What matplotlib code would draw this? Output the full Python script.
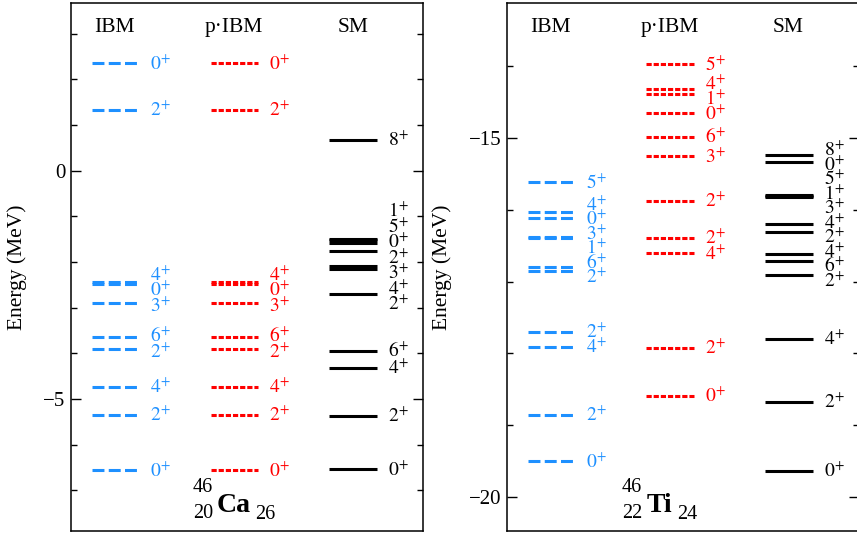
import numpy as np
import matplotlib
matplotlib.use('Agg')
import matplotlib.pyplot as plt
import matplotlib.transforms as mtransforms

plt.rcParams['font.family'] = 'Liberation Serif'
plt.rcParams['mathtext.fontset'] = 'stix'
plt.rcParams['lines.scale_dashes'] = False

# 46Ca levels (MeV)
ca_ibm_E = [2.35, 1.33, -2.44, -2.48, -2.89, -3.65, -3.91, -4.73, -5.35, -6.56]
ca_ibm_J = ['0', '2', '4', '0', '3', '6', '2', '4', '2', '0']
ca_pibm_E = [2.35, 1.33, -2.44, -2.48, -2.89, -3.65, -3.91, -4.73, -5.35, -6.56]
ca_pibm_J = ['0', '2', '4', '0', '3', '6', '2', '4', '2', '0']
ca_sm_E = [0.67, -1.50, -1.51, -1.58, -1.76, -2.09, -2.15, -2.70, -3.94, -4.32, -5.37, -6.54]
ca_sm_J = ['8', '1', '5', '0', '2', '3', '4', '2', '6', '4', '2', '0']

# 46Ti levels (MeV)
ti_ibm_E = [-15.62, -16.04, -16.11, -16.38, -16.40, -16.80, -16.85, -17.70, -17.91, -18.85, -19.50]
ti_ibm_J = ['5', '4', '0', '3', '1', '6', '2', '2', '4', '2', '0']
ti_pibm_E = [-13.98, -14.32, -14.39, -14.66, -14.99, -15.26, -15.88, -16.39, -16.61, -17.92, -18.59]
ti_pibm_J = ['5', '4', '1', '0', '6', '3', '2', '2', '4', '2', '0']
ti_sm_E = [-15.24, -15.34, -15.79, -15.81, -15.83, -16.20, -16.31, -16.62, -16.71, -16.91, -17.80, -18.67, -19.63]
ti_sm_J = ['8', '0', '5', '1', '3', '4', '2', '4', '6', '2', '4', '2', '0']

headers = ['IBM', 'p\u00b7IBM', 'SM']
blue = '#1E90FF'
red = '#FF0000'


def spread(vals, gap):
    pos = np.array(vals, float)
    order = np.argsort(-pos, kind='stable')
    p = pos[order].copy()
    for _ in range(1000):
        moved = False
        for i in range(len(p) - 1):
            d = p[i] - p[i + 1]
            if d < gap - 1e-9:
                s = (gap - d) / 2
                p[i] += s
                p[i + 1] -= s
                moved = True
        if not moved:
            break
    out = np.empty_like(p)
    out[order] = p
    return out


def panel(ax, cols, ylim, gap_px, nucl):
    ax.set_xlim(-0.371, 2.595)
    ax.set_ylim(*ylim)
    fig = ax.figure
    h_px = ax.get_position().height * fig.get_figheight() * fig.dpi
    px_per = h_px / (ylim[1] - ylim[0])
    lab_tr = mtransforms.offset_copy(ax.transData, fig=fig, x=0, y=-4.6, units='points')
    styles = [dict(color=blue, linestyle=(0, (8.6, 3.1))),
              dict(color=red, linestyle=(0, (3.75, 1.4))),
              dict(color='black', linestyle='-')]
    for i, (E, J) in enumerate(cols):
        st = styles[i]
        for e in E:
            ax.plot([i - 0.195, i + 0.205], [e, e], lw=2.2, solid_capstyle='butt', **st)
        ly = spread(E, gap_px / px_per)
        for y, j in zip(ly, J):
            ax.text(i + 0.3, y, r'$%s^{+}$' % j, color=st['color'], fontsize=14,
                    ha='left', va='baseline', transform=lab_tr)
        ax.text(i, 0.9545, headers[i], fontsize=15.5, ha='center', va='center',
                transform=ax.get_xaxis_transform())
    sym, A, Z, N, xs = nucl
    ax.text(xs[0], 0.082, A, fontsize=14.5, ha='right', va='center', transform=ax.transAxes)
    ax.text(xs[0], 0.032, Z, fontsize=14.5, ha='right', va='center', transform=ax.transAxes)
    ax.text(xs[1], 0.035, sym, fontsize=20, fontweight='bold', ha='left', va='baseline',
            transform=ax.transAxes)
    ax.text(xs[2], 0.031, N, fontsize=14.5, ha='left', va='center', transform=ax.transAxes)

    ax.set_xticks([])
    ax.tick_params(axis='y', which='both', direction='in', left=True, right=True,
                   labelsize=15, pad=4, width=1)
    ax.tick_params(axis='y', which='major', length=7)
    ax.tick_params(axis='y', which='minor', length=4)
    for s in ax.spines.values():
        s.set_linewidth(1.1)
    ax.set_ylabel('Energy (MeV)', fontsize=15.5)


fig = plt.figure(figsize=(8.57, 5.33), dpi=100)
ax1 = fig.add_axes([70.7 / 857, 1 - 530.7 / 533, 352.6 / 857, 527.7 / 533])
ax2 = fig.add_axes([506.7 / 857, 1 - 530.7 / 533, 352.3 / 857, 527.7 / 533])

panel(ax1, [(ca_ibm_E, ca_ibm_J), (ca_pibm_E, ca_pibm_J), (ca_sm_E, ca_sm_J)],
      (-7.88, 3.67), 15.5, ('Ca', '46', '20', '26', (0.403, 0.413, 0.523)))
ax1.set_yticks([-5, 0])
ax1.set_yticks(np.arange(-7, 4), minor=True)
ax1.yaxis.set_label_coords(-0.124, 0.5)

panel(ax2, [(ti_ibm_E, ti_ibm_J), (ti_pibm_E, ti_pibm_J), (ti_sm_E, ti_sm_J)],
      (-20.465, -13.127), 14.5, ('Ti', '46', '22', '24', (0.385, 0.397, 0.483)))
ax2.set_yticks([-20, -15])
ax2.set_yticks(np.arange(-20, -13), minor=True)
ax2.yaxis.set_label_coords(-0.155, 0.5)

fig.savefig('out.png', dpi=100)
